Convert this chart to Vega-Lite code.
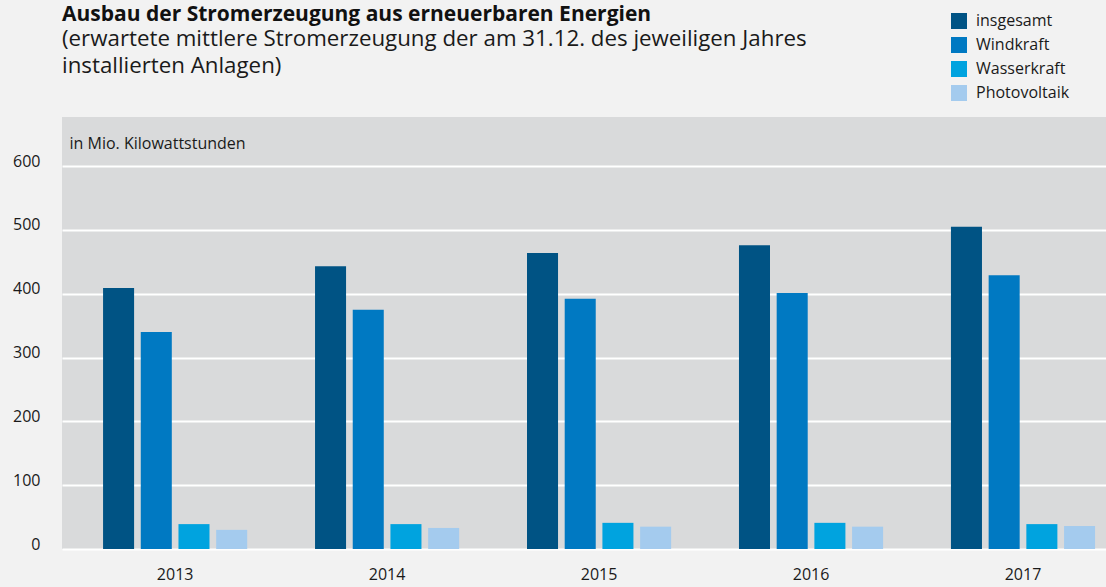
{
  "$schema": "https://vega.github.io/schema/vega-lite/v6.json",
  "width": 1044,
  "height": 432,
  "autosize": {"type": "none"},
  "padding": {"left": 62, "top": 117, "right": 0, "bottom": 38},
  "background": "#f2f2f2",
  "title": {
    "text": "Ausbau der Stromerzeugung aus erneuerbaren Energien",
    "subtitle": ["(erwartete mittlere Stromerzeugung der am 31.12. des jeweiligen Jahres", "installierten Anlagen)"],
    "anchor": "start",
    "frame": "group",
    "font": "Open Sans",
    "fontSize": 21,
    "fontWeight": "bold",
    "color": "#111111",
    "subtitleFont": "Open Sans",
    "subtitleFontSize": 22.3,
    "subtitleColor": "#1a1a1a",
    "subtitleLineHeight": 27,
    "subtitlePadding": 3,
    "offset": -64
  },
  "data": {
    "values": [
      {"year": "2013", "type": "insgesamt", "value": 409},
      {"year": "2013", "type": "Windkraft", "value": 340},
      {"year": "2013", "type": "Wasserkraft", "value": 39},
      {"year": "2013", "type": "Photovoltaik", "value": 30},
      {"year": "2014", "type": "insgesamt", "value": 443},
      {"year": "2014", "type": "Windkraft", "value": 375},
      {"year": "2014", "type": "Wasserkraft", "value": 39},
      {"year": "2014", "type": "Photovoltaik", "value": 33},
      {"year": "2015", "type": "insgesamt", "value": 464},
      {"year": "2015", "type": "Windkraft", "value": 392},
      {"year": "2015", "type": "Wasserkraft", "value": 41},
      {"year": "2015", "type": "Photovoltaik", "value": 35},
      {"year": "2016", "type": "insgesamt", "value": 476},
      {"year": "2016", "type": "Windkraft", "value": 401},
      {"year": "2016", "type": "Wasserkraft", "value": 41},
      {"year": "2016", "type": "Photovoltaik", "value": 35},
      {"year": "2017", "type": "insgesamt", "value": 505},
      {"year": "2017", "type": "Windkraft", "value": 429},
      {"year": "2017", "type": "Wasserkraft", "value": 39},
      {"year": "2017", "type": "Photovoltaik", "value": 36}
    ]
  },
  "mark": {"type": "bar"},
  "encoding": {
    "x": {
      "field": "year",
      "type": "nominal",
      "scale": {"paddingInner": 0.32, "paddingOuter": 0.1226, "align": 0.79},
      "axis": {
        "title": null,
        "domain": false,
        "ticks": false,
        "labelAngle": 0,
        "labelFont": "Open Sans",
        "labelFontSize": 16,
        "labelColor": "#1a1a1a",
        "labelPadding": 17,
        "labelBaseline": "top",
        "encode": {"labels": {"update": {"dx": {"signal": "(toNumber(datum.value) - 2017) * 5"}}}}
      }
    },
    "xOffset": {
      "field": "type",
      "type": "nominal",
      "sort": ["insgesamt", "Windkraft", "Wasserkraft", "Photovoltaik"],
      "scale": {"paddingInner": 0.177, "paddingOuter": 0}
    },
    "y": {
      "field": "value",
      "type": "quantitative",
      "scale": {"domain": [0, 677], "nice": false},
      "axis": {
        "values": [0, 100, 200, 300, 400, 500, 600],
        "title": "in Mio. Kilowattstunden",
        "titleAngle": 0,
        "titleAlign": "left",
        "titleBaseline": "middle",
        "titleX": 7,
        "titleY": 26,
        "titleFont": "Open Sans",
        "titleFontSize": 16,
        "titleFontWeight": "normal",
        "titleColor": "#1a1a1a",
        "domain": false,
        "ticks": false,
        "grid": true,
        "gridColor": "#ffffff",
        "gridWidth": 2,
        "labelFont": "Open Sans",
        "labelFontSize": 16,
        "labelColor": "#1a1a1a",
        "labelAlign": "right",
        "labelBaseline": "alphabetic",
        "labelPadding": 22
      }
    },
    "color": {
      "field": "type",
      "type": "nominal",
      "scale": {
        "domain": ["insgesamt", "Windkraft", "Wasserkraft", "Photovoltaik"],
        "range": ["#005384", "#0079c2", "#00a3df", "#a4cbee"]
      },
      "legend": {
        "title": null,
        "orient": "none",
        "legendX": 889,
        "legendY": -104,
        "symbolType": "square",
        "symbolSize": 256,
        "symbolStrokeWidth": 0,
        "symbolOpacity": 1,
        "rowPadding": 8,
        "labelFont": "Open Sans",
        "labelFontSize": 16,
        "labelColor": "#1a1a1a",
        "labelOffset": 9
      }
    }
  },
  "config": {
    "view": {"fill": "#d9dadb", "stroke": null}
  }
}
